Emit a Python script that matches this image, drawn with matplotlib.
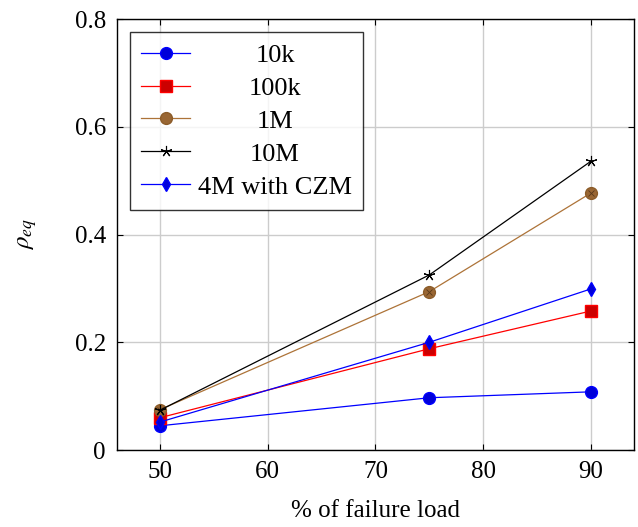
import matplotlib
matplotlib.use("Agg")
import matplotlib.pyplot as plt
from matplotlib import font_manager as fm

available = set(f.name for f in fm.fontManager.ttflist)
serif = 'STIXGeneral'
for cand in ['Liberation Serif', 'Tinos', 'TeX Gyre Termes', 'Nimbus Roman', 'STIX Two Text']:
    if cand in available:
        serif = cand
        break
plt.rcParams['font.family'] = [serif, 'DejaVu Serif']
plt.rcParams['mathtext.fontset'] = 'stix'

load = [50, 75, 90]
s10k = [0.045, 0.097, 0.108]
s100k = [0.060, 0.188, 0.258]
s1M = [0.075, 0.294, 0.477]
s10M = [0.074, 0.325, 0.536]
sczm = [0.052, 0.200, 0.299]
labels = ['10k', '100k', '1M', '10M', '4M with CZM']
xticks = [50, 60, 70, 80, 90]
yticks = [0, 0.2, 0.4, 0.6, 0.8]
yticklabels = ['0', '0.2', '0.4', '0.6', '0.8']

fig = plt.figure(figsize=(6.38, 5.27), dpi=100)
ax = fig.add_axes([0.1834, 0.1461, 0.8103, 0.8178])

brown = (0.68, 0.45, 0.22)
ax.plot(load, s10k, color='blue', lw=0.9, marker='o', ms=8.5, mfc=(0, 0, 0.85), mec='blue', label=labels[0])
ax.plot(load, s100k, color='red', lw=0.9, marker='s', ms=8, mfc=(0.8, 0, 0), mec='red', label=labels[1])
ax.plot(load, s1M, color=brown, lw=0.9, marker='o', ms=8.5, mfc=(0.6, 0.4, 0.2), mec=(0.55, 0.36, 0.16), label=labels[2])
ax.plot(load, s1M, ls='none', marker='x', ms=5, mew=0.6, color=(0.35, 0.22, 0.1))
ax.plot(load, s10M, color='black', lw=0.9, marker=(5, 2, 0), ms=8, mew=0.8, label=labels[3])
ax.plot(load, sczm, color='blue', lw=0.9, marker='d', ms=7.5, mfc=(0, 0, 0.85), mec='blue', label=labels[4])

ax.set_xlim(46, 94)
ax.set_ylim(0, 0.8)
ax.set_xticks(xticks)
ax.set_yticks(yticks)
ax.set_yticklabels(yticklabels)
ax.grid(True, color=(0.8, 0.8, 0.8), lw=1)
ax.set_axisbelow(True)
ax.tick_params(direction='in', length=4, labelsize=18, top=True, right=True, color='black', pad=8)
for sp in ax.spines.values():
    sp.set_linewidth(1)
ax.set_xlabel('% of failure load', fontsize=18, labelpad=12)
ax.set_ylabel(r'$\rho_{eq}$', fontsize=18, labelpad=26)

leg = ax.legend(loc='upper left', fontsize=19, frameon=True, fancybox=False, edgecolor='black',
                borderaxespad=0.5, handlelength=1.85, handletextpad=0.3, labelspacing=0.36, borderpad=0.42)
leg.get_frame().set_linewidth(1)

# centre the legend labels in their column, as in the reference
fig.canvas.draw()
r = fig.canvas.get_renderer()
texts = leg.get_texts()
widths = [t.get_window_extent(r).width for t in texts]
W = max(widths)
for t, w in zip(texts, widths):
    t.set_position(((W - w) / 2.0, 0))

fig.savefig('out.png', dpi=100)
